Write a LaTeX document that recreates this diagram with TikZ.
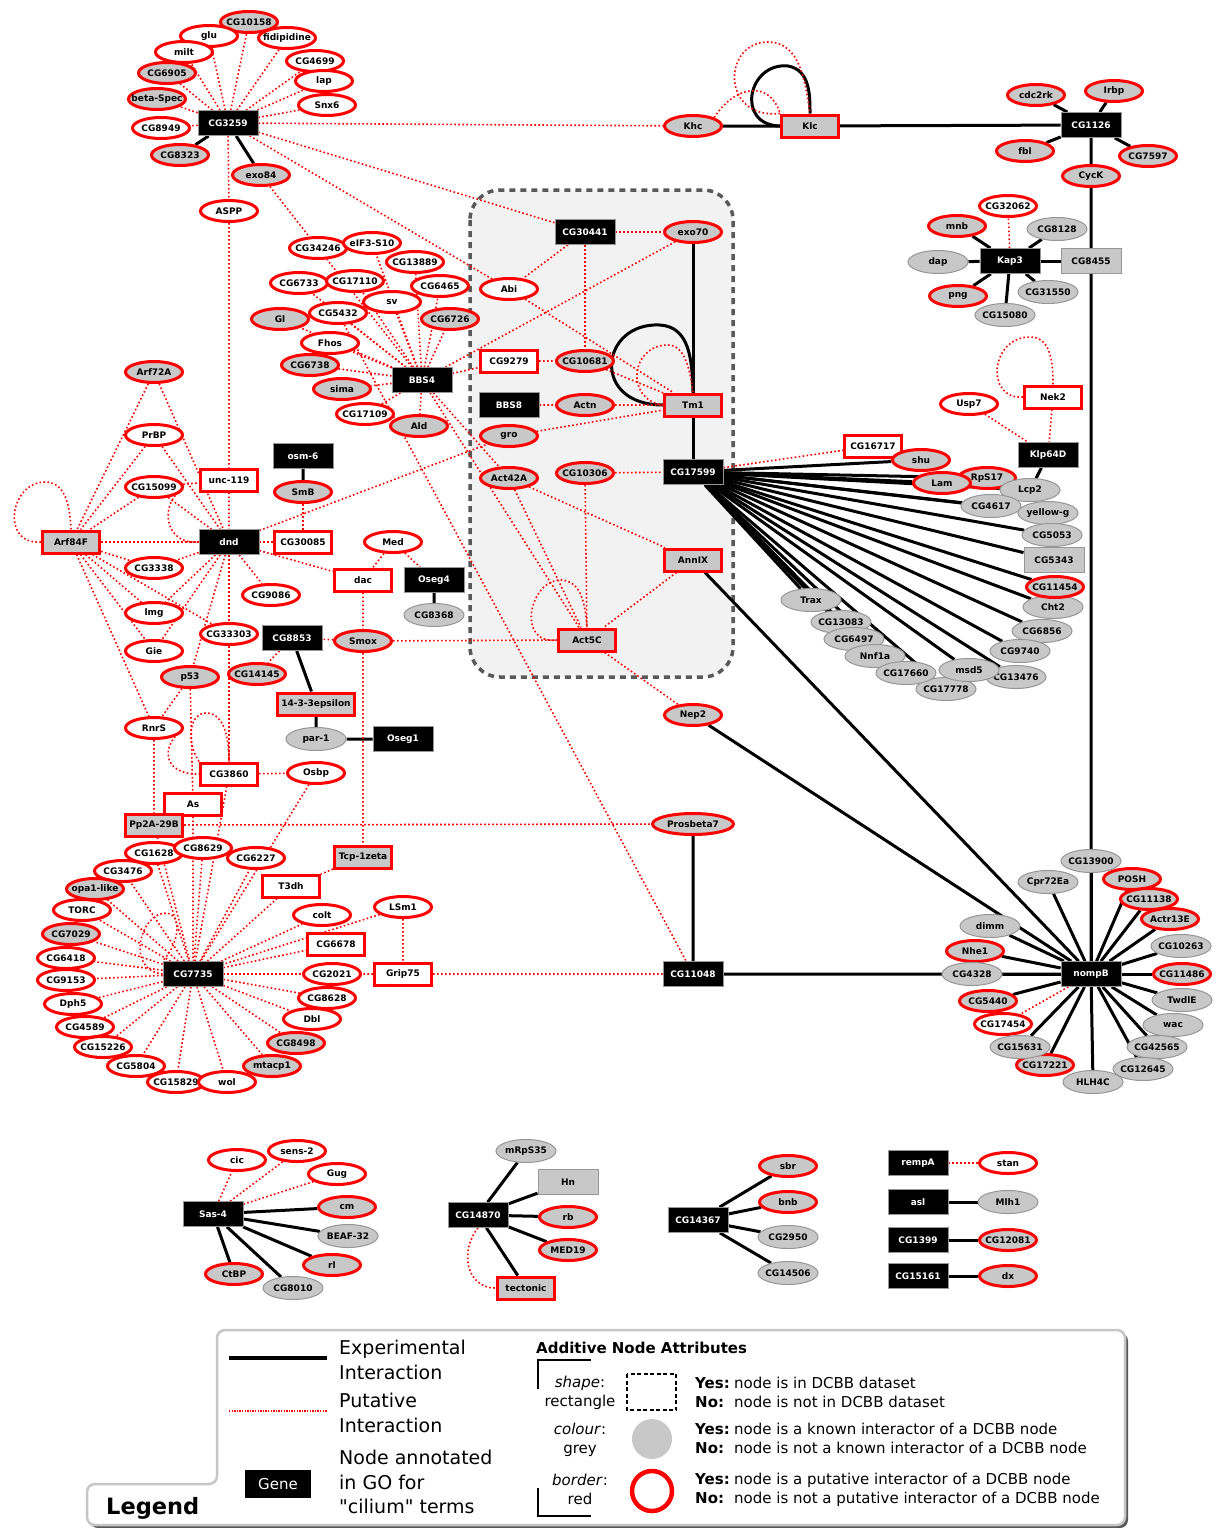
\documentclass[tikz,border=0pt]{standalone}
\usepackage{fontspec}
\setmainfont{DejaVu Sans}[Ligatures=TeXOff]
\usetikzlibrary{shapes.geometric}

\definecolor{nred}{RGB}{255,0,0}
\definecolor{ngray}{RGB}{200,200,200}
\definecolor{nline}{RGB}{150,150,150}
\pgfdeclarelayer{bg}
\pgfdeclarelayer{edges}
\pgfsetlayers{bg,edges,main}

\tikzset{
  lbl/.style={font=\fontsize{9}{10}\selectfont\bfseries,inner sep=0pt},
  gene/.style={lbl,rectangle,fill=black,draw=nline,line width=0.8pt,text=white,
    minimum width=60pt,minimum height=25pt},
  rbox/.style={lbl,rectangle,fill=white,draw=nred,line width=3pt,
    minimum width=57pt,minimum height=22pt,inner xsep=4pt},
  rgbox/.style={rbox,fill=ngray},
  gbox/.style={lbl,rectangle,fill=ngray,draw=nline,line width=1pt,
    minimum width=60pt,minimum height=25pt},
  % label kept at zero width so every oval has the same size
  oval/.style={lbl,ellipse,execute at begin node={\hbox to 0pt\bgroup\hss},
    execute at end node={\hss\egroup}},
  rell/.style={oval,fill=white,draw=nred,line width=3pt,minimum width=57pt,minimum height=21pt},
  rgell/.style={rell,fill=ngray},
  gell/.style={oval,fill=ngray,draw=nline,line width=1pt,minimum width=60pt,minimum height=23pt},
  exp/.style={line width=3pt},
  put/.style={draw=nred,line width=1.6pt,dash pattern=on 1.6pt off 2.4pt},
  legtxt/.style={inner sep=0pt,font=\fontsize{19}{24}\selectfont},
  attr/.style={inner sep=0pt,font=\fontsize{15}{18}\selectfont},
}
\newcommand\yesno[1]{\makebox[39pt][l]{\textbf{#1}}}

\begin{document}
\begin{tikzpicture}[x=1pt,y=-1pt]
\useasboundingbox (0,0) rectangle (1215,1528);
\begin{pgfonlayer}{bg}
  \fill[white] (0,0) rectangle (1215,1528);
  \draw[fill=gray!10,draw=black!65,line width=3.5pt,dash pattern=on 6pt off 5pt,
    rounded corners=30pt] (470,190) rectangle (733,677);
\end{pgfonlayer}

% CG3259 group
\node[rgell] (CG10158) at (249,22) {CG10158};
\node[rell] (glu) at (209,36) {glu};
\node[rell] (fidipidine) at (287,38) {fidipidine};
\node[rell] (milt) at (184,52) {milt};
\node[rell] (CG4699) at (315,61) {CG4699};
\node[rgell] (CG6905) at (167,73) {CG6905};
\node[rell] (lap) at (324,81) {lap};
\node[rgell] (betaSpec) at (157,99) {beta-Spec};
\node[rell] (Snx6) at (327,105) {Snx6};
\node[gene] (CG3259) at (228,123) {CG3259};
\node[rell] (CG8949) at (161,128) {CG8949};
\node[rgell] (CG8323) at (180,155) {CG8323};
\node[rgell] (exo84) at (261,175) {exo84};
\node[rell] (ASPP) at (229,211) {ASPP};

% BBS4 group
\node[rell] (CG34246) at (318,248) {CG34246};
\node[rell] (eIF3S10) at (372,243) {eIF3-S10};
\node[rell] (CG13889) at (415,262) {CG13889};
\node[rell] (CG6733) at (299,283) {CG6733};
\node[rell] (CG17110) at (355,281) {CG17110};
\node[rell] (CG6465) at (440,286) {CG6465};
\node[rell] (sv) at (392,302) {sv};
\node[rgell] (Gl) at (280,319) {Gl};
\node[rell] (CG5432) at (338,313) {CG5432};
\node[rgell] (CG6726) at (450,319) {CG6726};
\node[rell] (Fhos) at (330,343) {Fhos};
\node[rgell] (CG6738) at (310,365) {CG6738};
\node[rgell] (sima) at (342,389) {sima};
\node[gene] (BBS4) at (422,380) {BBS4};
\node[rell] (CG17109) at (365,414) {CG17109};
\node[rgell] (Ald) at (419,426) {Ald};

% dnd group
\node[rgell] (Arf72A) at (154,372) {Arf72A};
\node[rell] (PrBP) at (154,435) {PrBP};
\node[gene] (osm6) at (303,456) {osm-6};
\node[rbox] (unc119) at (229,480) {unc-119};
\node[rgell] (SmB) at (303,492) {SmB};
\node[rell] (CG15099) at (154,487) {CG15099};
\node[rgbox] (Arf84F) at (71,542) {Arf84F};
\node[gene] (dnd) at (229,542) {dnd};
\node[rbox] (CG30085) at (303,542) {CG30085};
\node[rell] (Med) at (393,542) {Med};
\node[rell] (CG3338) at (154,568) {CG3338};
\node[rbox] (dac) at (363,580) {dac};
\node[gene] (Oseg4) at (434,580) {Oseg4};
\node[rell] (CG9086) at (271,595) {CG9086};
\node[gell] (CG8368) at (434,615) {CG8368};
\node[rell] (lmg) at (154,613) {lmg};
\node[rell] (CG33303) at (229,634) {CG33303};
\node[gene] (CG8853) at (292,638) {CG8853};
\node[rgell] (Smox) at (363,641) {Smox};
\node[rell] (Gie) at (154,651) {Gie};
\node[rgell] (p53) at (190,677) {p53};
\node[rgell] (CG14145) at (257,674) {CG14145};
\node[rgbox] (e1433) at (316,704) {14-3-3epsilon};
\node[rell] (RnrS) at (154,728) {RnrS};
\node[gell] (par1) at (316,739) {par-1};
\node[gene] (Oseg1) at (403,739) {Oseg1};
\node[rbox] (CG3860) at (229,774) {CG3860};
\node[rell] (Osbp) at (316,773) {Osbp};
\node[rbox] (As) at (193,804) {As};
\node[rgbox] (Pp2A) at (154,825) {Pp2A-29B};

% CG7735 group
\node[rell] (CG1628) at (154,853) {CG1628};
\node[rell] (CG8629) at (203,848) {CG8629};
\node[rell] (CG6227) at (256,858) {CG6227};
\node[rgbox] (Tcp1zeta) at (363,857) {Tcp-1zeta};
\node[rell] (CG3476) at (123,871) {CG3476};
\node[rbox] (T3dh) at (291,886) {T3dh};
\node[rgell] (opa1like) at (95,889) {opa1-like};
\node[rell] (TORC) at (82,910) {TORC};
\node[rell] (colt) at (322,915) {colt};
\node[rell] (LSm1) at (403,907) {LSm1};
\node[rgell] (CG7029) at (71,934) {CG7029};
\node[rbox] (CG6678) at (336,944) {CG6678};
\node[rell] (CG6418) at (66,958) {CG6418};
\node[gene] (CG7735) at (193,974) {CG7735};
\node[rell] (CG2021) at (332,974) {CG2021};
\node[rbox] (Grip75) at (403,974) {Grip75};
\node[rell] (CG9153) at (66,980) {CG9153};
\node[rell] (Dph5) at (73,1004) {Dph5};
\node[rell] (CG8628) at (327,998) {CG8628};
\node[rell] (Dbl) at (312,1019) {Dbl};
\node[rell] (CG4589) at (85,1027) {CG4589};
\node[rgell] (CG8498) at (296,1043) {CG8498};
\node[rell] (CG15226) at (103,1047) {CG15226};
\node[rell] (CG5804) at (136,1066) {CG5804};
\node[rgell] (mtacp1) at (272,1066) {mtacp1};
\node[rell] (CG15829) at (176,1082) {CG15829};
\node[rell] (wol) at (227,1082) {wol};

% middle column
\node[rgell] (Khc) at (693,126) {Khc};
\node[rgbox] (Klc) at (810,126) {Klc};
\node[gene] (CG30441) at (585,232) {CG30441};
\node[rgell] (exo70) at (693,232) {exo70};
\node[rell] (Abi) at (509,289) {Abi};
\node[rbox] (CG9279) at (509,361) {CG9279};
\node[rgell] (CG10681) at (585,361) {CG10681};
\node[gene] (BBS8) at (509,405) {BBS8};
\node[rgell] (Actn) at (585,405) {Actn};
\node[rgbox] (Tm1) at (693,405) {Tm1};
\node[rgell] (gro) at (509,436) {gro};
\node[rgell] (Act42A) at (509,478) {Act42A};
\node[rgell] (CG10306) at (585,473) {CG10306};
\node[gene] (CG17599) at (693,472) {CG17599};
\node[rgbox] (AnnIX) at (693,560) {AnnIX};
\node[rgbox] (Act5C) at (587,640) {Act5C};
\node[rgell] (Nep2) at (693,715) {Nep2};
\node[rgell,minimum width=81pt] (Prosbeta7) at (693,824) {Prosbeta7};
\node[gene] (CG11048) at (693,974) {CG11048};

% right column
\node[rgell] (cdc2rk) at (1036,95) {cdc2rk};
\node[rgell] (Irbp) at (1114,91) {Irbp};
\node[gene] (CG1126) at (1091,125) {CG1126};
\node[rgell] (fbl) at (1025,151) {fbl};
\node[rgell] (CG7597) at (1148,156) {CG7597};
\node[rgell] (CycK) at (1091,176) {CycK};
\node[rell] (CG32062) at (1008,206) {CG32062};
\node[rgell] (mnb) at (957,226) {mnb};
\node[gell] (CG8128) at (1057,229) {CG8128};
\node[gell] (dap) at (938,262) {dap};
\node[gene] (Kap3) at (1010,261) {Kap3};
\node[gbox] (CG8455) at (1091,261) {CG8455};
\node[rgell] (png) at (958,296) {png};
\node[gell] (CG31550) at (1048,292) {CG31550};
\node[gell] (CG15080) at (1005,315) {CG15080};
\node[rbox] (Nek2) at (1053,397) {Nek2};
\node[rell] (Usp7) at (969,404) {Usp7};
\node[gene] (Klp64D) at (1048,455) {Klp64D};
\node[rbox] (CG16717) at (873,446) {CG16717};
\node[rgell] (shu) at (921,460) {shu};
\node[rgell] (RpS17) at (987,478) {RpS17};
\node[rgell] (Lam) at (942,483) {Lam};
\node[gell] (Lcp2) at (1030,490) {Lcp2};
\node[gell] (CG4617) at (991,506) {CG4617};
\node[gell] (yellowg) at (1048,513) {yellow-g};
\node[gell] (CG5053) at (1052,535) {CG5053};
\node[gbox] (CG5343) at (1054,560) {CG5343};
\node[gell] (Cht2) at (1053,607) {Cht2};
\node[rgell] (CG11454) at (1055,587) {CG11454};
\node[gell] (CG6856) at (1042,631) {CG6856};
\node[gell] (CG9740) at (1020,651) {CG9740};
\node[gell] (Trax) at (811,600) {Trax};
\node[gell] (CG13083) at (841,622) {CG13083};
\node[gell] (CG6497) at (854,639) {CG6497};
\node[gell] (Nnf1a) at (875,656) {Nnf1a};
\node[gell] (CG17778) at (946,689) {CG17778};
\node[gell] (CG17660) at (906,673) {CG17660};
\node[gell] (CG13476) at (1016,677) {CG13476};
\node[gell] (msd5) at (969,670) {msd5};

% nompB group
\node[gell] (CG13900) at (1091,861) {CG13900};
\node[gell] (Cpr72Ea) at (1048,882) {Cpr72Ea};
\node[rgell] (POSH) at (1132,879) {POSH};
\node[rgell] (CG11138) at (1149,899) {CG11138};
\node[rgell] (Actr13E) at (1170,919) {Actr13E};
\node[gell] (dimm) at (990,926) {dimm};
\node[gell] (CG10263) at (1181,946) {CG10263};
\node[rgell] (Nhe1) at (975,951) {Nhe1};
\node[gell] (CG4328) at (972,974) {CG4328};
\node[gene] (nompB) at (1091,974) {nompB};
\node[rgell] (CG11486) at (1182,974) {CG11486};
\node[rgell] (CG5440) at (988,1001) {CG5440};
\node[gell] (TwdlE) at (1182,1000) {TwdlE};
\node[rell] (CG17454) at (1003,1024) {CG17454};
\node[gell] (wac) at (1173,1025) {wac};
\node[rgell] (CG17221) at (1045,1065) {CG17221};
\node[gell] (CG15631) at (1020,1047) {CG15631};
\node[gell] (CG42565) at (1157,1047) {CG42565};
\node[gell] (CG12645) at (1143,1069) {CG12645};
\node[gell] (HLH4C) at (1093,1082) {HLH4C};

% small components
\node[rell] (cic) at (237,1160) {cic};
\node[rell] (sens2) at (297,1151) {sens-2};
\node[rell] (Gug) at (337,1174) {Gug};
\node[gene] (Sas4) at (213,1214) {Sas-4};
\node[rgell] (cm) at (347,1207) {cm};
\node[gell] (BEAF32) at (348,1236) {BEAF-32};
\node[rgell] (rl) at (332,1265) {rl};
\node[rgell] (CtBP) at (234,1274) {CtBP};
\node[gell] (CG8010) at (293,1288) {CG8010};
\node[gell] (mRpS35) at (526,1151) {mRpS35};
\node[gbox] (Hn) at (568,1182) {Hn};
\node[gene] (CG14870) at (478,1215) {CG14870};
\node[rgell] (rb) at (568,1217) {rb};
\node[rgell] (MED19) at (568,1250) {MED19};
\node[rgbox] (tectonic) at (526,1288) {tectonic};
\node[rgell] (sbr) at (788,1166) {sbr};
\node[rgell] (bnb) at (788,1202) {bnb};
\node[gene] (CG14367) at (698,1220) {CG14367};
\node[gell] (CG2950) at (788,1237) {CG2950};
\node[gell] (CG14506) at (788,1273) {CG14506};
\node[gene] (rempA) at (918,1163) {rempA};
\node[rell] (stan) at (1008,1163) {stan};
\node[gene] (asl) at (918,1202) {asl};
\node[gell] (Mlh1) at (1008,1202) {Mlh1};
\node[gene] (CG1399) at (918,1240) {CG1399};
\node[rgell] (CG12081) at (1008,1240) {CG12081};
\node[gene] (CG15161) at (918,1276) {CG15161};
\node[rgell] (dx) at (1008,1276) {dx};

\begin{pgfonlayer}{edges}
% experimental interactions
\draw[exp] (CG3259) -- (CG8323) (CG3259) -- (exo84) (osm6) -- (SmB) (Oseg4) -- (CG8368);
\draw[exp] (CG8853) -- (e1433) -- (par1) -- (Oseg1);
\draw[exp] (Khc) -- (Klc) -- (CG1126) -- (CycK) -- (CG8455) -- (nompB);
\foreach \n in {cdc2rk,Irbp,fbl,CG7597} \draw[exp] (CG1126) -- (\n);
\foreach \n in {mnb,CG8128,dap,CG8455,png,CG31550,CG15080} \draw[exp] (Kap3) -- (\n);
\draw[exp] (Klp64D) -- (Lcp2);
\draw[exp] (exo70) -- (Tm1) -- (CG17599);
\foreach \n in {shu,Lam,RpS17,Lcp2,CG4617,yellowg,CG5053,CG5343,CG11454,Cht2,CG6856,
  CG9740,CG13476,msd5,CG17778,CG17660,Nnf1a,CG6497,CG13083,Trax}
  \draw[exp] (CG17599) -- (\n);
\draw[exp] (AnnIX) -- (nompB) (Nep2) -- (nompB) (Prosbeta7) -- (CG11048) -- (nompB);
\foreach \n in {CG13900,Cpr72Ea,POSH,CG11138,Actr13E,dimm,CG10263,Nhe1,CG4328,CG11486,
  CG5440,TwdlE,CG15631,wac,CG42565,CG17221,CG12645,HLH4C}
  \draw[exp] (nompB) -- (\n);
\foreach \n in {cm,BEAF32,rl,CtBP,CG8010} \draw[exp] (Sas4) -- (\n);
\foreach \n in {mRpS35,Hn,rb,MED19,tectonic} \draw[exp] (CG14870) -- (\n);
\foreach \n in {sbr,bnb,CG2950,CG14506} \draw[exp] (CG14367) -- (\n);
\draw[exp] (asl) -- (Mlh1) (CG1399) -- (CG12081) (CG15161) -- (dx);
\draw[exp] (Klc.west) .. controls (735,125) and (748,62) .. (788,66)
  .. controls (810,70) and (810,95) .. (Klc.north);
\draw[exp] (Tm1.west) .. controls (590,405) and (600,322) .. (660,325)
  .. controls (690,327) and (692,360) .. (Tm1.north);

% putative interactions
\foreach \n in {CG10158,glu,fidipidine,milt,CG4699,CG6905,lap,betaSpec,Snx6,CG8949,ASPP,
  Khc,CG30441,Abi}
  \draw[put] (CG3259) -- (\n);
\draw[put] (ASPP) -- (unc119) (exo84) -- (CG34246);
\foreach \n in {CG34246,eIF3S10,CG13889,CG6733,CG17110,CG6465,sv,Gl,CG5432,CG6726,Fhos,
  CG6738,sima,CG17109,Ald,CG9279,exo70,Act42A,Act5C}
  \draw[put] (BBS4) -- (\n);
\draw[put] (CG5432) -- (CG11048);
\foreach \n in {exo70,Abi,CG10681} \draw[put] (CG30441) -- (\n);
\draw[put] (Abi) -- (Tm1) (CG9279) -- (CG10681) -- (Tm1);
\draw[put] (BBS8) -- (Actn) -- (Tm1) (gro) -- (Tm1) (dnd) -- (gro);
\draw[put] (CG10306) -- (CG17599) (CG10306) -- (Act5C) (CG17599) -- (CG16717);
\draw[put] (Act42A) -- (Act5C) (Act42A) -- (AnnIX) -- (Act5C) -- (Nep2) (Smox) -- (Act5C);
\foreach \n in {Arf72A,PrBP,CG15099} {
  \draw[put] (\n) -- (Arf84F);
  \draw[put] (\n) -- (dnd);
}
\draw[put] (CG15099) -- (unc119) -- (dnd);
\foreach \n in {dnd,CG3338,lmg,Gie,RnrS,CG33303} \draw[put] (Arf84F) -- (\n);
\foreach \n in {CG3338,lmg,Gie,p53,CG33303,CG9086,dac,CG30085} \draw[put] (dnd) -- (\n);
\draw[put] (CG33303) -- (CG3860) (SmB) -- (CG30085);
\draw[put] (Med) -- (dac) -- (Smox) (Med) -- (Oseg4);
\draw[put] (Smox) -- (CG8853) -- (CG14145) (Smox) -- (Tcp1zeta) -- (T3dh);
\draw[put] (p53) -- (RnrS) -- (Pp2A) (p53) -- (As) -- (CG7735);
\draw[put] (CG3860) -- (Osbp) -- (CG7735) (CG3860) -- (CG7735);
\draw[put] (Pp2A) -- (Prosbeta7) (Pp2A) -- (CG7735);
\draw[put] (LSm1) -- (CG7735) (LSm1) -- (Grip75) -- (CG2021) (Grip75) -- (CG11048);
\foreach \n in {CG1628,CG8629,CG6227,CG3476,T3dh,opa1like,TORC,colt,CG7029,CG6678,CG6418,
  CG2021,CG9153,Dph5,CG8628,Dbl,CG4589,CG8498,CG15226,CG5804,mtacp1,CG15829,wol}
  \draw[put] (CG7735) -- (\n);
\draw[put] (Kap3) -- (CG32062) (Nek2) -- (Klp64D) (Usp7) -- (Klp64D);
\draw[put] (nompB) -- (CG17454);
\foreach \n in {cic,sens2,Gug} \draw[put] (Sas4) -- (\n);
\draw[put] (rempA) -- (stan);
% curved and self edges
\draw[put] (Khc.north east) .. controls (735,85) and (770,80) .. (Klc.north west);
\draw[put] (Klc.north west) .. controls (720,120) and (722,40) .. (770,42)
  .. controls (800,44) and (805,80) .. (Klc.north);
\draw[put] (Tm1.west) .. controls (625,400) and (630,345) .. (668,345)
  .. controls (685,345) and (690,370) .. (Tm1.north);
\draw[put] (Act5C.west) .. controls (515,645) and (530,578) .. (562,580)
  .. controls (580,582) and (585,600) .. (Act5C.north);
\draw[put] (Arf84F.west) .. controls (0,545) and (10,482) .. (45,482)
  .. controls (65,482) and (70,505) .. (Arf84F.north);
\draw[put] (Nek2.west) .. controls (985,400) and (990,337) .. (1030,337)
  .. controls (1050,337) and (1053,360) .. (Nek2.north);
\draw[put] (CG15099.south east) .. controls (160,515) and (170,545) .. (dnd.west);
\draw[put] (RnrS.south east) .. controls (160,755) and (170,775) .. (CG3860.west);
\draw[put] (CG3860.north west) .. controls (185,740) and (190,712) .. (207,713)
  .. controls (225,714) and (229,740) .. (CG3860.north);
\draw[put] (CG7735.west) .. controls (125,970) and (140,912) .. (167,913)
  .. controls (180,914) and (182,940) .. (CG7735.north west);
\draw[put] (CG14870.south) .. controls (460,1250) and (465,1288) .. (tectonic.west);
\end{pgfonlayer}

% legend
\fill[black!65,rounded corners=8pt,shift={(3,3)}] (87,1525) -- (87,1484) -- (217,1484)
  -- (217,1330) -- (1125,1330) -- (1125,1525) -- cycle;
\draw[fill=white,draw=gray!45,line width=2.5pt,rounded corners=8pt] (87,1525) -- (87,1484)
  -- (217,1484) -- (217,1330) -- (1125,1330) -- (1125,1525) -- cycle;
\coordinate (ea) at (229,1358);
\coordinate (eb) at (327,1358);
\coordinate (pa) at (229,1411);
\coordinate (pb) at (327,1411);
\draw[line width=4pt] (ea) -- (eb);
\draw[nred,line width=1.3pt,dash pattern=on 1.3pt off 1.3pt] (pa) -- (pb);
\node[legtxt,anchor=base west] (lexp1) at (339,1354) {Experimental};
\node[legtxt,anchor=base west] (lexp2) at (339,1379) {Interaction};
\node[legtxt,anchor=base west] (lput1) at (339,1407) {Putative};
\node[legtxt,anchor=base west] (lput2) at (339,1432) {Interaction};
\node[legtxt,anchor=base west] (lgo1) at (339,1464) {Node annotated};
\node[legtxt,anchor=base west] (lgo2) at (339,1489) {in GO for};
\node[legtxt,anchor=base west] (lgo3) at (339,1513) {"cilium" terms};
\node[fill=black,text=white,font=\fontsize{15}{18}\selectfont,minimum width=66pt,
  minimum height=28pt,inner sep=0pt] (lgene) at (278,1484) {Gene};
\node[inner sep=0pt,anchor=base west,font=\fontsize{22.5}{26}\selectfont\bfseries]
  (ltitle) at (106,1514) {Legend};
\node[attr,anchor=base west,font=\fontsize{15}{18}\selectfont\bfseries]
  (lattr) at (536,1353) {Additive Node Attributes};
\draw[line width=2pt] (538,1389) -- (538,1360) -- (591,1360);
\draw[line width=2pt] (538,1488) -- (538,1516) -- (591,1516);
\node[attr,anchor=base] (lshape) at (580,1387) {\textit{shape}:};
\node[attr,anchor=base] (lrect) at (580,1406) {rectangle};
\node[attr,anchor=base] (lcol) at (580,1434) {\textit{colour}:};
\node[attr,anchor=base] (lgrey) at (580,1453) {grey};
\node[attr,anchor=base] (lbord) at (580,1485) {\textit{border}:};
\node[attr,anchor=base] (lred) at (580,1504) {red};
\draw[line width=1.2pt,dash pattern=on 4pt off 2.5pt] (627,1374) rectangle (676,1410);
\fill[ngray] (652,1439) circle (20);
\draw[nred,line width=4.5pt] (652,1491) circle (20);
\node[attr,anchor=base west] (ly1) at (695,1388) {\yesno{Yes:}node is in DCBB dataset};
\node[attr,anchor=base west] (ln1) at (695,1407) {\yesno{No:}node is not in DCBB dataset};
\node[attr,anchor=base west] (ly2) at (695,1434) {\yesno{Yes:}node is a known interactor of a DCBB node};
\node[attr,anchor=base west] (ln2) at (695,1453) {\yesno{No:}node is not a known interactor of a DCBB node};
\node[attr,anchor=base west] (ly3) at (695,1484) {\yesno{Yes:}node is a putative interactor of a DCBB node};
\node[attr,anchor=base west] (ln3) at (695,1503) {\yesno{No:}node is not a putative interactor of a DCBB node};
\end{tikzpicture}
\end{document}
